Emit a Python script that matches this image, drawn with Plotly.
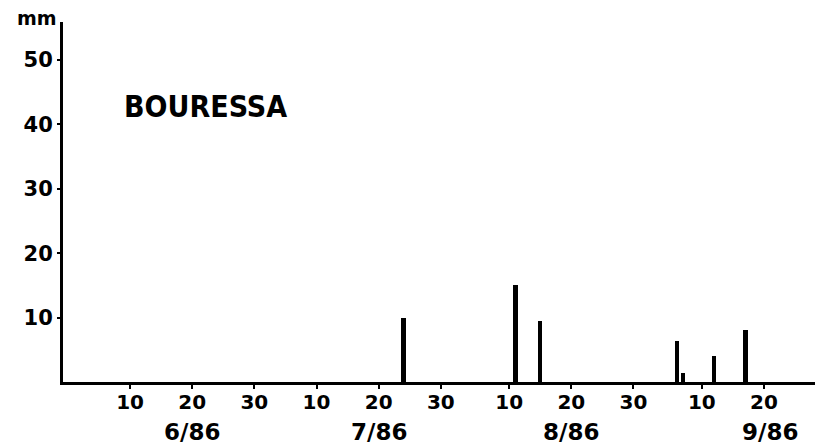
import plotly.graph_objects as go

# Data (daily rainfall, mm)
rain_dates = ["1986-07-24", "1986-08-11", "1986-08-15", "1986-09-06",
              "1986-09-07", "1986-09-12", "1986-09-17"]
rain_mm = [10, 15, 9.5, 6.3, 1.4, 4, 8]

x_tick_dates = ["1986-06-10", "1986-06-20", "1986-06-30", "1986-07-10",
                "1986-07-20", "1986-07-30", "1986-08-10", "1986-08-20",
                "1986-08-30", "1986-09-10", "1986-09-20"]
x_tick_text = ["10", "20", "30", "10", "20", "30", "10", "20", "30", "10", "20"]

month_dates = ["1986-06-20", "1986-07-20", "1986-08-20", "1986-09-21"]
month_labels = ["6/86", "7/86", "8/86", "9/86"]

y_ticks = [10, 20, 30, 40, 50]
y_tick_text = ["10", "20", "30", "40", "50"]

station = "BOURESSA"
unit = "mm"

DAY_MS = 86400000

fig = go.Figure()
fig.add_trace(go.Bar(
    x=rain_dates, y=rain_mm,
    width=[0.7 * DAY_MS] * len(rain_dates),
    marker=dict(color="black", line=dict(width=0)),
    showlegend=False,
))

num_font = dict(family="DejaVu Sans", size=20, color="black", weight="bold")

fig.update_layout(
    width=819, height=448,
    margin=dict(l=63, r=4, t=22, b=66),
    paper_bgcolor="white", plot_bgcolor="white",
    bargap=0,
    xaxis=dict(
        type="date",
        range=["1986-05-30 05:00", "1986-09-28 05:00"],
        tickmode="array", tickvals=x_tick_dates, ticktext=x_tick_text,
        showgrid=False, zeroline=False,
        showline=True, linecolor="black", linewidth=3,
        ticks="outside", ticklen=4, tickwidth=2, tickcolor="black",
        ticklabelstandoff=-4,
        tickfont=num_font,
    ),
    yaxis=dict(
        range=[0, 55.9],
        tickmode="array", tickvals=y_ticks, ticktext=y_tick_text,
        showgrid=False, zeroline=False,
        showline=True, linecolor="black", linewidth=3,
        ticks="outside", ticklen=3, tickwidth=2, tickcolor="black",
        tickfont=dict(family="DejaVu Sans", size=21, color="black", weight="bold"),
    ),
)

for d, lab in zip(month_dates, month_labels):
    fig.add_annotation(
        x=d, xref="x", y=0, yref="paper", yshift=-50,
        text=lab, showarrow=False, xanchor="center", yanchor="middle",
        font=dict(family="DejaVu Sans", size=23, color="black", weight="bold"),
    )

fig.add_annotation(
    x=0, xref="paper", xshift=-26, y=1, yref="paper", yshift=4,
    text=unit, showarrow=False, xanchor="center", yanchor="middle",
    font=dict(family="DejaVu Sans", size=19, color="black", weight="bold"),
)

fig.add_annotation(
    x=0.19, xref="paper", y=0.764, yref="paper",
    text=station, showarrow=False, xanchor="center", yanchor="middle",
    font=dict(family="DejaVu Sans Condensed, DejaVu Sans", size=30, color="black", weight="bold"),
)

fig.write_html(
    "out.html",
    config={"displayModeBar": False},
    post_script="document.body.style.margin='0';document.body.style.overflow='hidden';",
)
